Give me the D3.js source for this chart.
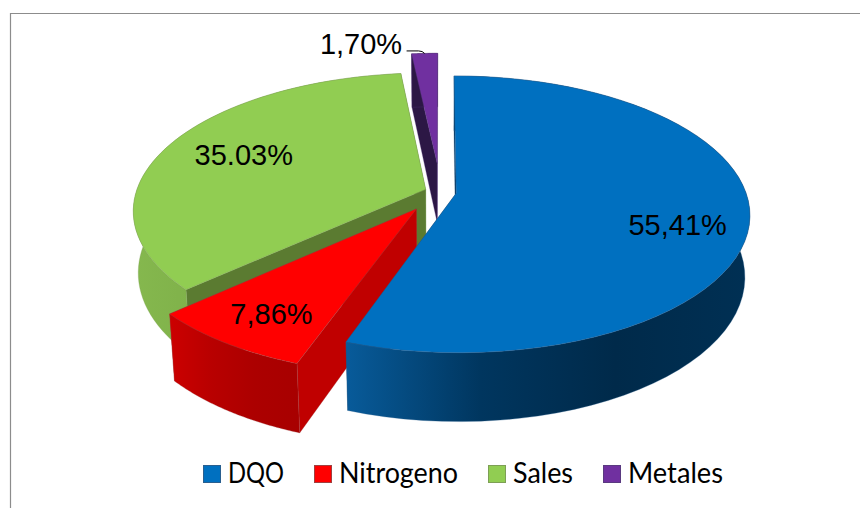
<!DOCTYPE html>
<html>
<head>
  <meta charset="utf-8">
  <title>Pie chart</title>
  <script src="https://d3js.org/d3.v7.min.js"></script>
  <style>
    html, body { margin: 0; background: #fff; }
    svg { display: block; }
  </style>
</head>
<body>
  <div id="chart"></div>
  <script>
    // values
    var categories = ['DQO', 'Nitrogeno', 'Sales', 'Metales'];
    var values = [55.41, 7.86, 35.03, 1.70];
    var valueLabels = ['55,41%', '7,86%', '35.03%', '1,70%'];

    // how far each slice is pulled out of the pie (in radii)
    var explode = [0.055, 0.148, 0.055, 0.22];

    var topColors = ['#0070c0', '#ff0000', '#91cd52', '#7030a0'];
    var edgeColors = ['#2a5f8f', '#a04040', '#7d9f55', '#5a3a80'];
    var sideColors = ['#00335c', '#c00000', '#5b7b31', '#2c1745'];
    var wallStops = [
      ['#085b9a', '#00365f', '#002a4a', '#003054'],
      ['#cc0000', '#b80000', '#ac0000', '#a80000'],
      ['#85b84e', '#7dae48', '#76a743', '#70a040'],
      ['#2c1745', '#2c1745', '#2c1745', '#2c1745']
    ];

    // label position around the apex of its slice: radius, and turn from the slice middle
    var labelRadius = [0.77, 0.80, 0.71, 1.15];
    var labelTurn = [7.5, -1, 1.3, -13];

    // legend text is squeezed to the width it has in the picture
    var legendWidths = [56, 119, 60, 95];

    var width = 860;
    var height = 508;

    // camera: perspective projection of the unit disc, z = 1 is the bottom of the pie
    var cam = { cx: 440.5, cy: 192, a: 289.5, b: 134.8, p: 0.152, q: 0.016, depth: 62 };

    function project(u, v, z) {
      var w = 1 - cam.p * v + cam.q * z;
      return [cam.cx + cam.a * u / w, cam.cy + (cam.b * v + cam.depth * z) / w];
    }

    // point of a slice: angle clockwise from the top, radius r, level z
    function slicePoint(d, angle, r, z) {
      var mid = (d.startAngle + d.endAngle) / 2;
      var ex = explode[d.index];
      var u = ex * Math.sin(mid) + r * Math.sin(angle);
      var v = -ex * Math.cos(mid) - r * Math.cos(angle);
      return project(u, v, z);
    }

    function arcPoints(d, z) {
      var steps = d3.range(0, 61).map(function (i) { return i / 60; });
      var angle = d3.scaleLinear().domain([0, 1]).range([d.startAngle, d.endAngle]);
      return steps.map(function (t) { return slicePoint(d, angle(t), 1, z); });
    }

    var pie = d3.pie().sort(null).startAngle(0).endAngle(2 * Math.PI);
    var slices = pie(values);

    var svg = d3.select('#chart').append('svg')
      .attr('width', width)
      .attr('height', height);

    // frame, only top and left are visible
    svg.append('path')
      .attr('d', 'M10.5,' + height + 'V13.5H' + width)
      .attr('fill', 'none')
      .attr('stroke', '#8c8c8c')
      .attr('stroke-width', 1.2);

    var defs = svg.append('defs');
    var line = d3.line();

    // back to front: Metales, Sales, Nitrogeno, DQO
    [3, 2, 1, 0].forEach(function (i) {
      var d = slices[i];
      var g = svg.append('g');

      var topArc = arcPoints(d, 0);
      var bottomArc = arcPoints(d, 1);
      var xs = topArc.map(function (p) { return p[0]; });

      var grad = defs.append('linearGradient')
        .attr('id', 'wall' + i)
        .attr('gradientUnits', 'userSpaceOnUse')
        .attr('x1', d3.min(xs)).attr('x2', d3.max(xs))
        .attr('y1', 0).attr('y2', 0);
      wallStops[i].forEach(function (c, k) {
        grad.append('stop')
          .attr('offset', k / (wallStops[i].length - 1))
          .attr('stop-color', c);
      });

      // the two flat cut faces
      [d.endAngle, d.startAngle].forEach(function (angle) {
        g.append('path')
          .attr('d', line([
            slicePoint(d, angle, 0, 0), slicePoint(d, angle, 1, 0),
            slicePoint(d, angle, 1, 1), slicePoint(d, angle, 0, 1)
          ]) + 'Z')
          .attr('fill', sideColors[i])
          .attr('stroke', edgeColors[i])
          .attr('stroke-width', 0.3);
      });

      // outer rounded wall
      g.append('path')
        .attr('d', line(topArc.concat(bottomArc.slice().reverse())) + 'Z')
        .attr('fill', 'url(#wall' + i + ')')
        .attr('stroke', edgeColors[i])
        .attr('stroke-width', 0.3);

      // top face
      g.append('path')
        .attr('d', line([slicePoint(d, 0, 0, 0)].concat(topArc)) + 'Z')
        .attr('fill', topColors[i])
        .attr('stroke', edgeColors[i])
        .attr('stroke-width', 0.4);
    });

    // value labels
    var labelCenters = slices.map(function (d, i) {
      var mid = (d.startAngle + d.endAngle) / 2 + labelTurn[i] * Math.PI / 180;
      return slicePoint(d, mid, labelRadius[i], 0);
    });

    svg.selectAll('text.value')
      .data(valueLabels)
      .enter()
      .append('text')
        .attr('class', 'value')
        .attr('x', function (d, i) { return labelCenters[i][0]; })
        .attr('y', function (d, i) { return labelCenters[i][1]; })
        .attr('dy', '0.35em')
        .attr('text-anchor', 'middle')
        .attr('font-family', '"Liberation Sans", Arial, sans-serif')
        .attr('font-size', 29)
        .attr('fill', '#000')
        .text(function (d) { return d; });

    // leader line of the small slice
    var small = slices[3];
    var tip = slicePoint(small, (small.startAngle + small.endAngle) / 2, 1, 0);
    var leader = d3.path();
    leader.moveTo(tip[0] - 18, tip[1] - 2.5);
    leader.lineTo(tip[0] - 6, tip[1] - 2.5);
    leader.quadraticCurveTo(tip[0] - 2, tip[1] - 2.5, tip[0], tip[1]);
    svg.append('path')
      .attr('d', leader.toString())
      .attr('fill', 'none')
      .attr('stroke', '#000')
      .attr('stroke-width', 1);

    // legend, one item after the other
    var legendX = 203;
    var legend = svg.append('g').attr('transform', 'translate(0,465)');
    categories.forEach(function (name, i) {
      var item = legend.append('g').attr('transform', 'translate(' + legendX + ',0)');
      item.append('rect')
        .attr('x', 0.5).attr('y', 0.5)
        .attr('width', 17).attr('height', 17)
        .attr('fill', topColors[i])
        .attr('stroke', edgeColors[i]);
      item.append('text')
        .attr('x', 25)
        .attr('y', 18)
        .attr('font-family', 'Lato, "Open Sans", sans-serif')
        .attr('font-size', 28)
        .attr('fill', '#000')
        .attr('textLength', legendWidths[i])
        .attr('lengthAdjust', 'spacingAndGlyphs')
        .text(name);
      legendX += 25 + legendWidths[i] + 30;
    });
  </script>
</body>
</html>
